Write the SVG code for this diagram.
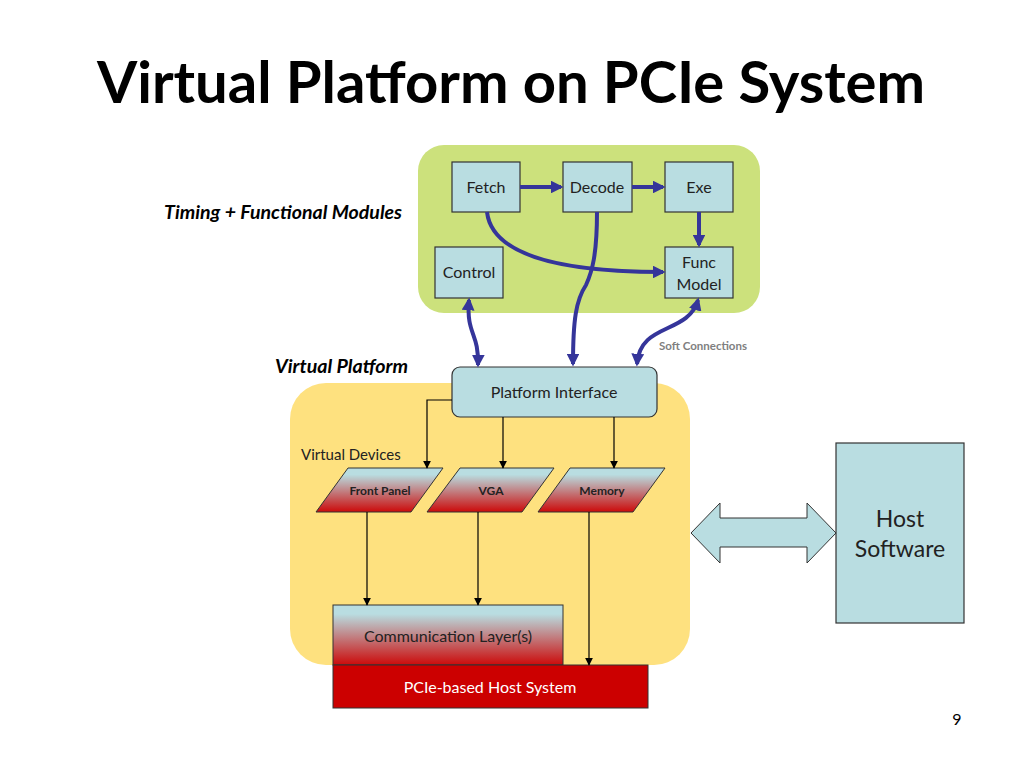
<svg xmlns="http://www.w3.org/2000/svg" width="1024" height="768" viewBox="0 0 1024 768">
<defs>
<style>
.box{fill:#b9dde1;stroke:#333;stroke-width:1.2}
.t{font-family:Lato,"Open Sans","Liberation Sans",sans-serif;fill:#222;font-size:16px;text-anchor:middle}
.s{font-size:12px;font-weight:bold}
.h{font-size:23px}
.w{fill:#fff}
.b{stroke:#35359a;stroke-width:4;fill:none}
.k{stroke:#000;stroke-width:1.2;fill:none}
.lbl{font-family:Lato,"Open Sans","Liberation Sans",sans-serif;font-weight:bold;font-style:italic;font-size:18px;fill:#000}
</style>
<linearGradient id="gr" x1="0" y1="0" x2="0" y2="1">
<stop offset="0.15" stop-color="#b9dde1"/>
<stop offset="1" stop-color="#cc0a0a"/>
</linearGradient>
<marker id="ba" viewBox="0 0 10 10" refX="8" refY="5" markerWidth="3.2" markerHeight="3.2" orient="auto-start-reverse" markerUnits="strokeWidth">
<path d="M0,0 L10,5 L0,10 z" fill="#35359a"/>
</marker>
<marker id="ka" viewBox="0 0 10 10" refX="9" refY="5" markerWidth="8" markerHeight="8" orient="auto" markerUnits="userSpaceOnUse">
<path d="M0,0 L10,5 L0,10 z" fill="#000"/>
</marker>
</defs>
<rect width="1024" height="768" fill="#fff"/>
<text x="511" y="103" font-family="Lato,'Open Sans','Liberation Sans',sans-serif" font-weight="bold" font-size="58" text-anchor="middle" fill="#000">Virtual Platform on PCIe System</text>

<g id="timing-region">
<rect x="418" y="145" width="342" height="168" rx="26" fill="#cce17c"/>
</g>
<g id="virtual-platform-region">
<rect x="290" y="383" width="400" height="282" rx="36" fill="#fee17f"/>
</g>
<text class="lbl" x="402" y="219" text-anchor="end" textLength="238" lengthAdjust="spacingAndGlyphs">Timing + Functional Modules</text>
<text class="lbl" x="408" y="373" text-anchor="end" textLength="133" lengthAdjust="spacingAndGlyphs">Virtual Platform</text>
<text x="301" y="460" font-family="Lato,'Open Sans','Liberation Sans',sans-serif" font-size="15" fill="#222">Virtual Devices</text>
<text x="659" y="350" font-family="Lato,'Open Sans','Liberation Sans',sans-serif" font-size="11.5" font-weight="bold" fill="#808080">Soft Connections</text>

<g id="fetch"><rect class="box" x="452" y="162" width="68" height="50"/><text class="t" x="486" y="193">Fetch</text></g>
<g id="decode"><rect class="box" x="563" y="162" width="69" height="50"/><text class="t" x="597" y="193">Decode</text></g>
<g id="exe"><rect class="box" x="665" y="162" width="68" height="50"/><text class="t" x="699" y="193">Exe</text></g>
<g id="control"><rect class="box" x="435" y="247" width="68" height="51"/><text class="t" x="469" y="278">Control</text></g>
<g id="func-model"><rect class="box" x="665" y="247" width="68" height="51"/><text class="t" x="699" y="268">Func</text><text class="t" x="699" y="290">Model</text></g>
<g id="platform-interface"><rect class="box" x="452" y="367" width="205" height="50" rx="8"/><text class="t" x="554" y="398">Platform Interface</text></g>

<g id="front-panel"><path d="M348,468 L443,468 L411,512 L316,512 z" fill="url(#gr)" stroke="#333" stroke-width="1"/><text class="t s" x="380" y="495">Front Panel</text></g>
<g id="vga"><path d="M460,468 L554,468 L522,512 L427,512 z" fill="url(#gr)" stroke="#333" stroke-width="1"/><text class="t s" x="491" y="495">VGA</text></g>
<g id="memory"><path d="M570,468 L665,468 L633,512 L538,512 z" fill="url(#gr)" stroke="#333" stroke-width="1"/><text class="t s" x="602" y="495">Memory</text></g>

<g id="communication-layer"><rect x="333" y="605" width="230" height="60" fill="url(#gr)" stroke="#333" stroke-width="1"/><text class="t" x="448" y="642">Communication Layer(s)</text></g>
<g id="pcie-host"><rect x="333" y="665" width="315" height="43" fill="#cc0000" stroke="#333" stroke-width="1"/><text class="t w" x="490" y="693">PCIe-based Host System</text></g>

<g id="host-software"><rect class="box" x="836" y="443" width="128" height="180"/><text class="t h" x="900" y="527">Host</text><text class="t h" x="900" y="557">Software</text></g>

<g id="connectors">
<path class="b" d="M520,187 L561,187" marker-end="url(#ba)"/>
<path class="b" d="M632,187 L663,187" marker-end="url(#ba)"/>
<path class="b" d="M699,212 L699,245" marker-end="url(#ba)"/>
<path class="b" d="M487,212 C492,255 560,272 663,272" marker-end="url(#ba)"/>
<path class="b" d="M597,212 C597,255 592,272 586,285 C576,300 573,320 573,364" marker-end="url(#ba)"/>
<path class="b" d="M469,300 C466,335 479,332 478,365" marker-start="url(#ba)" marker-end="url(#ba)"/>
<path class="b" d="M698,300 C688,335 640,322 637,364" marker-start="url(#ba)" marker-end="url(#ba)"/>

<path class="k" d="M452,400 L427,400 L427,468" marker-end="url(#ka)"/>
<path class="k" d="M503,417 L503,468" marker-end="url(#ka)"/>
<path class="k" d="M614,417 L614,468" marker-end="url(#ka)"/>
<path class="k" d="M367,512 L367,605" marker-end="url(#ka)"/>
<path class="k" d="M478,512 L478,605" marker-end="url(#ka)"/>
<path class="k" d="M589,512 L589,665" marker-end="url(#ka)"/>

<path d="M691,533 L720,503 L720,518 L807,518 L807,503 L836,533 L807,563 L807,547 L720,547 L720,563 z" fill="#b9dde1" stroke="#333" stroke-width="1"/>
</g>
<text x="957" y="725" font-family="Lato,'Open Sans','Liberation Sans',sans-serif" font-size="16" fill="#000" text-anchor="middle">9</text>
</svg>
